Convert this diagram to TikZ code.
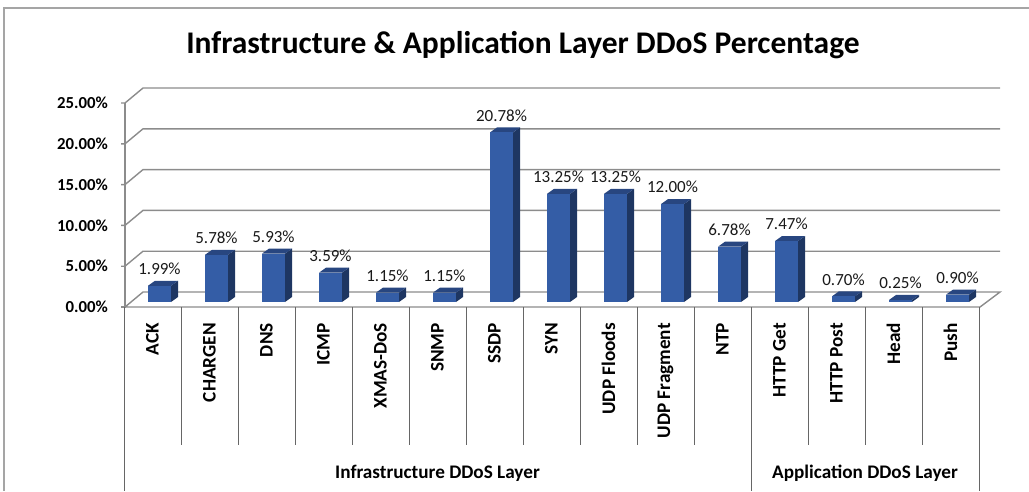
\documentclass[tikz,border=0pt]{standalone}
\usepackage{fontspec}
\setmainfont{Carlito}
\usetikzlibrary{calc}

\definecolor{barfront}{RGB}{52,93,166}
\definecolor{barside}{RGB}{30,54,98}
\definecolor{bartop}{RGB}{40,70,128}
\definecolor{gridgray}{RGB}{140,140,140}
\definecolor{framegray}{RGB}{165,165,165}
\definecolor{textdark}{RGB}{25,25,25}

\tikzset{
  grid line/.style={draw=gridgray, line width=1.4pt},
  divider/.style={draw=black!60, line width=0.9pt},
  cat label/.style={rotate=90, anchor=east, inner sep=0pt, font=\bfseries\fontsize{19.2}{21}\selectfont},
  val label/.style={inner sep=0pt, font=\fontsize{17}{19}\selectfont, text=textdark},
  axis label/.style={anchor=east, inner sep=0pt, font=\bfseries\fontsize{16.8}{19}\selectfont},
  group label/.style={inner sep=0pt, font=\bfseries\fontsize{19.2}{21}\selectfont},
}

% one 3d bar: #1 name of its value label, #2 centre of the category, #3 value
\newcommand{\ddbar}[3]{
  \fill[barside] (#2+18.5,302) -- (#2+25.5,297) -- (#2+25.5,{297-8.16*#3}) -- (#2+18.5,{302-8.16*#3}) -- cycle;
  \fill[bartop] (#2-4.5,{302-8.16*#3}) -- (#2+18.5,{302-8.16*#3}) -- (#2+25.5,{297-8.16*#3}) -- (#2+2.5,{297-8.16*#3}) -- cycle;
  \fill[barfront] (#2-4.5,302) rectangle (#2+18.5,{302-8.16*#3});
  \node[val label] (#1) at (#2+7,{285-8.16*#3}) {#3\%};
}

\begin{document}
\begin{tikzpicture}[x=1pt,y=-1pt]
  \useasboundingbox (0,0) rectangle (1029,491);
  \draw[framegray, line width=1.2pt] (4,491) -- (4,8) -- (1029,8);
  \node[anchor=base] (title) at (523,53.5) {\bfseries\fontsize{31.5}{34}\selectfont Infrastructure \& Application Layer DDoS Percentage};

  % walls and floor
  \draw[grid line] (125,307) -- (143,292) -- (1000,292) -- (980,307) -- cycle;
  \draw[grid line] (121,266.2) -- (125,266.2) -- (143,251.2) -- (1000,251.2);
  \draw[grid line] (121,225.4) -- (125,225.4) -- (143,210.4) -- (1000,210.4);
  \draw[grid line] (121,184.6) -- (125,184.6) -- (143,169.6) -- (1000,169.6);
  \draw[grid line] (121,143.8) -- (125,143.8) -- (143,128.8) -- (1000,128.8);
  \draw[grid line] (121,103) -- (125,103) -- (143,88) -- (1000,88);
  \draw[grid line] (121,307) -- (125,307) -- (125,103);

  \node[axis label] (y0) at (108,307) {0.00\%};
  \node[axis label] (y5) at (108,266.2) {5.00\%};
  \node[axis label] (y10) at (108,225.4) {10.00\%};
  \node[axis label] (y15) at (108,184.6) {15.00\%};
  \node[axis label] (y20) at (108,143.8) {20.00\%};
  \node[axis label] (y25) at (108,103) {25.00\%};

  % bars
  \ddbar{v-ack}{152.5}{1.99}
  \ddbar{v-chargen}{209.5}{5.78}
  \ddbar{v-dns}{266.5}{5.93}
  \ddbar{v-icmp}{323.5}{3.59}
  \ddbar{v-xmas}{380.5}{1.15}
  \ddbar{v-snmp}{437.5}{1.15}
  \ddbar{v-ssdp}{494.5}{20.78}
  \ddbar{v-syn}{551.5}{13.25}
  \ddbar{v-udpfl}{608.5}{13.25}
  \ddbar{v-udpfr}{665.5}{12.00}
  \ddbar{v-ntp}{722.5}{6.78}
  \ddbar{v-get}{779.5}{7.47}
  \ddbar{v-post}{836.5}{0.70}
  \ddbar{v-head}{893.5}{0.25}
  \ddbar{v-push}{950.5}{0.90}

  % category table
  \draw[divider] (124,307) -- (124,491);
  \draw[divider] (751,307) -- (751,491);
  \draw[divider] (979,307) -- (979,491);
  \draw[divider] (181,307) -- (181,445) (238,307) -- (238,445) (295,307) -- (295,445)
    (352,307) -- (352,445) (409,307) -- (409,445) (466,307) -- (466,445)
    (523,307) -- (523,445) (580,307) -- (580,445) (637,307) -- (637,445)
    (694,307) -- (694,445) (808,307) -- (808,445) (865,307) -- (865,445)
    (922,307) -- (922,445);

  \node[cat label] (ack) at (152.5,323) {ACK};
  \node[cat label] (chargen) at (209.5,323) {CHARGEN};
  \node[cat label] (dns) at (266.5,323) {DNS};
  \node[cat label] (icmp) at (323.5,323) {ICMP};
  \node[cat label] (xmas) at (380.5,323) {XMAS-DoS};
  \node[cat label] (snmp) at (437.5,323) {SNMP};
  \node[cat label] (ssdp) at (494.5,323) {SSDP};
  \node[cat label] (syn) at (551.5,323) {SYN};
  \node[cat label] (udpfl) at (608.5,323) {UDP Floods};
  \node[cat label] (udpfr) at (665.5,323) {UDP Fragment};
  \node[cat label] (ntp) at (722.5,323) {NTP};
  \node[cat label] (get) at (779.5,323) {HTTP Get};
  \node[cat label] (post) at (836.5,323) {HTTP Post};
  \node[cat label] (head) at (893.5,323) {Head};
  \node[cat label] (push) at (950.5,323) {Push};

  \node[group label] (infra) at (437.5,473) {Infrastructure DDoS Layer};
  \node[group label] (appl) at (865,473) {Application DDoS Layer};
\end{tikzpicture}
\end{document}
